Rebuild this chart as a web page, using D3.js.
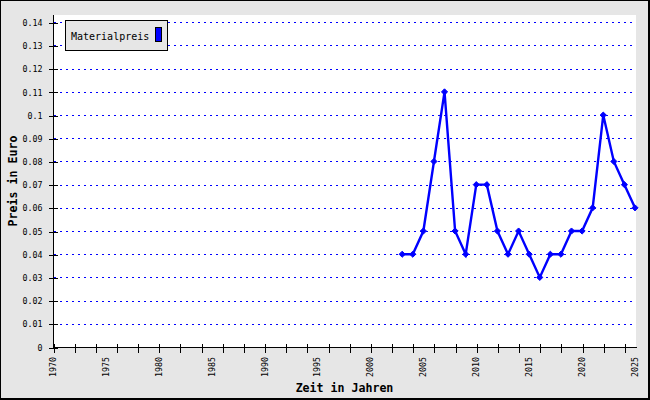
<!DOCTYPE html>
<html>
<head>
<meta charset="utf-8">
<script src="https://cdn.jsdelivr.net/npm/d3@7"></script>
<style>
html,body{margin:0;padding:0;background:#fff;}
svg{display:block;}
</style>
</head>
<body>
<svg id="chart" width="650" height="400"></svg>
<script>
const years = [2003,2004,2005,2006,2007,2008,2009,2010,2011,2012,2013,2014,2015,2016,2017,2018,2019,2020,2021,2022,2023,2024,2025];
const prices = [0.04,0.04,0.05,0.08,0.11,0.05,0.04,0.07,0.07,0.05,0.04,0.05,0.04,0.03,0.04,0.04,0.05,0.05,0.06,0.10,0.08,0.07,0.06];
const yTicks = [0,0.01,0.02,0.03,0.04,0.05,0.06,0.07,0.08,0.09,0.10,0.11,0.12,0.13,0.14];
const xLabels = [1970,1975,1980,1985,1990,1995,2000,2005,2010,2015,2020,2025];
const xMinorTicks = d3.range(1970, 2025, 2);
const seriesName = "Materialpreis";
const xTitle = "Zeit in Jahren";
const yTitle = "Preis in Euro";

const W = 650, H = 400;
const plot = {left: 53, right: 636, top: 15, bottom: 347};
const svg = d3.select("#chart");
const mono = "'DejaVu Sans Mono', 'Liberation Mono', monospace";

svg.append("rect").attr("x",0).attr("y",0).attr("width",W).attr("height",H).attr("fill","#e6e6e6");
svg.append("rect").attr("x",plot.left).attr("y",plot.top)
  .attr("width",plot.right-plot.left).attr("height",plot.bottom-plot.top).attr("fill","#fff");

const x = d3.scaleLinear().domain([1970,2025]).range([plot.left, 635]);
const y = d3.scaleLinear().domain([0,0.14]).range([plot.bottom, 22.3]);

// grid
svg.append("g").selectAll("line").data(yTicks.filter(d=>d>0)).join("line")
  .attr("x1",plot.left+1).attr("x2",plot.right-1)
  .attr("y1",d=>Math.round(y(d))+0.5).attr("y2",d=>Math.round(y(d))+0.5)
  .attr("stroke","#0000ff").attr("stroke-width",1).attr("stroke-dasharray","2,4")
  .attr("shape-rendering","crispEdges");

// y axis
const fmt = d => String(+d.toFixed(2));
const yAxis = d3.axisLeft(y).tickValues(yTicks).tickFormat(fmt).tickSizeInner(5).tickSizeOuter(0).tickPadding(6);
const gy = svg.append("g").attr("transform",`translate(${plot.left+0.5},0.5)`).call(yAxis);
gy.select(".domain").attr("stroke","#000").attr("d",`M0,${plot.top-0.5}V${plot.bottom}`);
gy.selectAll(".tick line").attr("x1",4).attr("x2",-5).attr("stroke","#000");
gy.selectAll(".tick text").attr("font-family",mono).attr("font-size","8.3px").attr("fill","#000");
gy.attr("shape-rendering","crispEdges");

// x axis ticks (every 2 years)
const xAxis = d3.axisBottom(x).tickValues(xMinorTicks).tickFormat("").tickSizeInner(5).tickSizeOuter(0);
const gx = svg.append("g").attr("transform",`translate(0.5,${plot.bottom+0.5})`).call(xAxis);
gx.select(".domain").attr("stroke","#000").attr("d",`M${plot.left},0H${plot.right}`);
gx.selectAll(".tick line").attr("y1",-4).attr("y2",5).attr("stroke","#000");
gx.attr("shape-rendering","crispEdges");

// x labels (rotated)
svg.append("g").selectAll("text").data(xLabels).join("text")
  .attr("transform",d=>`translate(${x(d)},357) rotate(-90)`)
  .attr("text-anchor","end").attr("dy","0.35em")
  .attr("font-family",mono).attr("font-size","8.3px").attr("fill","#000")
  .text(d=>d);

// titles
svg.append("text").attr("x",(plot.left+plot.right)/2).attr("y",392)
  .attr("text-anchor","middle").attr("font-family",mono).attr("font-weight","bold")
  .attr("font-size","11.6px").attr("fill","#000").text(xTitle);
svg.append("text").attr("transform",`translate(17,${(plot.top+plot.bottom)/2}) rotate(-90)`)
  .attr("text-anchor","middle").attr("font-family",mono).attr("font-weight","bold")
  .attr("font-size","11.6px").attr("fill","#000").text(yTitle);

// line
const data = years.map((yr,i)=>({yr, v:prices[i]}));
svg.append("path").datum(data)
  .attr("d",d3.line().x(d=>x(d.yr)).y(d=>y(d.v)))
  .attr("fill","none").attr("stroke","#0000ff").attr("stroke-width",2.4).attr("stroke-linejoin","miter");
svg.append("g").selectAll("path").data(data).join("path")
  .attr("transform",d=>`translate(${x(d.yr)},${y(d.v)})`)
  .attr("d",d3.symbol(d3.symbolDiamond2, 24)())
  .attr("fill","#0000ff").attr("stroke","#0000ff").attr("stroke-width",1);

// legend
const lg = svg.append("g");
lg.append("rect").attr("x",65.5).attr("y",20.5).attr("width",102).attr("height",30)
  .attr("fill","#e6e6e6").attr("stroke","#000").attr("stroke-width",1);
lg.append("text").attr("x",71).attr("y",40).attr("font-family",mono).attr("font-size","10px")
  .attr("fill","#000").text(seriesName);
lg.append("rect").attr("x",155.5).attr("y",27.5).attr("width",6).attr("height",14)
  .attr("fill","#0000ff").attr("stroke","#000").attr("stroke-width",1);

// outer frame
svg.append("rect").attr("x",0.5).attr("y",0.5).attr("width",W-1.5).attr("height",H-1.5)
  .attr("fill","none").attr("stroke","#000").attr("stroke-width",1);
svg.append("path").attr("d",`M${W-1},0V${H-1}H0`).attr("fill","none").attr("stroke","#000").attr("stroke-width",2);
</script>
</body>
</html>
